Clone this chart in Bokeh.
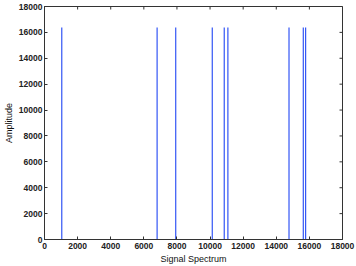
import math
from bokeh.plotting import figure
from bokeh.models import Range1d, FixedTicker
from bokeh.embed import file_html
from bokeh.resources import INLINE

# data
spike_freq = [1043, 6802, 7926, 10134, 10857, 11077, 14769, 15632, 15772]
spike_amp = [16384, 16384, 16384, 16384, 16384, 16384, 16384, 16384, 16384]
n_samples = 16384
x_ticks = [0, 2000, 4000, 6000, 8000, 10000, 12000, 14000, 16000, 18000]
y_ticks = [0, 2000, 4000, 6000, 8000, 10000, 12000, 14000, 16000, 18000]
x_max = 18000
y_max = 18000

blue = "#3355f5"
frame_col = "#333333"
font = "Liberation Sans"

p = figure(width=356, height=266, output_backend="svg", toolbar_location=None,
           x_range=Range1d(0, x_max), y_range=Range1d(0, y_max),
           min_border_left=43, min_border_right=14, min_border_top=6, min_border_bottom=27)
p.grid.visible = False
p.outline_line_color = frame_col
p.outline_line_width = 1

# baseline of spectrum (zeros) and spikes
p.line(x=[0, n_samples], y=[0, 0], line_color=blue, line_width=1.2)
p.segment(x0=spike_freq, y0=[0] * len(spike_freq), x1=spike_freq, y1=spike_amp,
          line_color=blue, line_width=1.2)

# inward ticks on top and right edges (clipped to frame)
p.scatter(x=x_ticks, y=[y_max] * len(x_ticks), marker="dash", angle=math.pi / 2,
          size=6, line_color=frame_col, line_width=1)
p.scatter(x=[x_max] * len(y_ticks), y=y_ticks, marker="dash",
          size=6, line_color=frame_col, line_width=1)

for ax in (p.xaxis[0], p.yaxis[0]):
    ax.major_tick_in = 3
    ax.major_tick_out = 0
    ax.minor_tick_line_color = None
    ax.axis_line_color = frame_col
    ax.major_tick_line_color = frame_col
    ax.major_label_text_font = font
    ax.major_label_text_font_size = "8.5px"
    ax.major_label_text_font_style = "bold"
    ax.major_label_text_color = "#222222"
    ax.axis_label_text_font = font
    ax.axis_label_text_font_size = "9px"
    ax.axis_label_text_font_style = "normal"
    ax.axis_label_text_color = "#111111"

p.xaxis.ticker = FixedTicker(ticks=x_ticks)
p.yaxis.ticker = FixedTicker(ticks=y_ticks)
p.xaxis.axis_label = "Signal Spectrum"
p.yaxis.axis_label = "Amplitude"
p.xaxis.major_label_standoff = 3
p.xaxis.axis_label_standoff = 2
p.yaxis.major_label_standoff = 2
p.yaxis.axis_label_standoff = 2

open("out.html", "w").write(file_html(p, INLINE))
